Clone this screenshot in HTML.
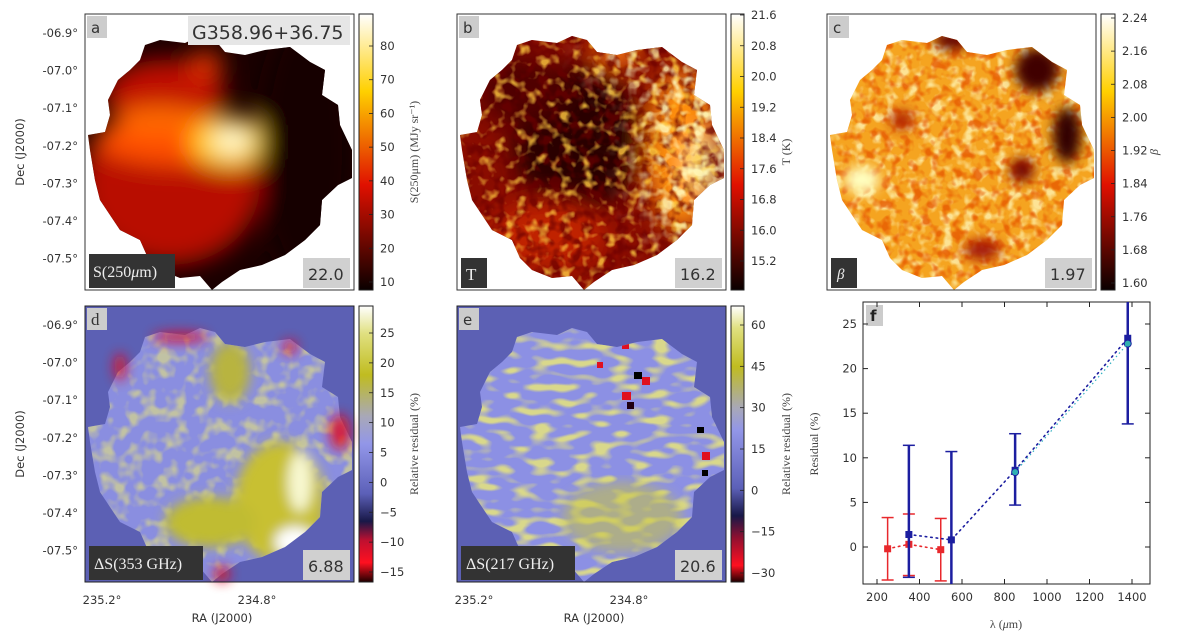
<!DOCTYPE html>
<html><head><meta charset="utf-8"><style>
html,body{margin:0;padding:0;background:#fff;width:1200px;height:636px;overflow:hidden}
svg{display:block}
.tk{font-family:"DejaVu Sans","Liberation Sans",sans-serif;font-size:11.5px;fill:#333}
.ser{font-family:"Liberation Serif","DejaVu Serif",serif;font-size:12px;fill:#444}
</style></head><body>
<svg id="fig" width="1200" height="636" viewBox="0 0 1200 636" xmlns="http://www.w3.org/2000/svg">
<defs>
<clipPath id="blobclip"><path id="blob" d="M145,45 L160,40 L185,43 L200,36 L215,40 L225,52 L245,55 L265,50 L290,47 L310,62 L325,70 L322,95 L338,105 L340,125 L352,150 L352,178 L338,185 L322,200 L320,225 L305,240 L285,255 L262,265 L240,270 L222,282 L212,290 L200,276 L180,278 L160,270 L148,258 L140,240 L120,230 L110,215 L100,200 L95,180 L90,150 L88,135 L105,132 L110,115 L108,100 L118,80 L130,70 L140,60 Z"/></clipPath>
<filter id="blur12"><feGaussianBlur stdDeviation="12"/></filter>
<filter id="blur6"><feGaussianBlur stdDeviation="6"/></filter>
<filter id="blur20" x="-50%" y="-50%" width="200%" height="200%"><feGaussianBlur stdDeviation="20"/></filter>
<mask id="rightMask" maskUnits="userSpaceOnUse" x="85" y="14" width="269" height="276"><rect x="85" y="14" width="269" height="276" fill="#000"/><ellipse cx="320" cy="140" rx="55" ry="120" fill="#fff" filter="url(#blur20)"/><ellipse cx="250" cy="60" rx="30" ry="25" fill="#fff" filter="url(#blur20)"/></mask>
<filter id="mottleDark" x="0" y="0" width="100%" height="100%"><feTurbulence type="fractalNoise" baseFrequency="0.09" numOctaves="2" seed="3"/><feColorMatrix type="matrix" values="0 0 0 0 0.15  0 0 0 0 0  0 0 0 0 0  -4 0 0 0 2.2"/></filter>
<filter id="mottleBright" x="0" y="0" width="100%" height="100%"><feTurbulence type="fractalNoise" baseFrequency="0.09" numOctaves="2" seed="7"/><feColorMatrix type="matrix" values="0 0 0 0 1  0 0 0 0 0.6  0 0 0 0 0.05  4 0 0 0 -2.1"/></filter>
<filter id="mottleYelB" x="0" y="0" width="100%" height="100%"><feTurbulence type="fractalNoise" baseFrequency="0.09" numOctaves="2" seed="13"/><feColorMatrix type="matrix" values="0 0 0 0 1  0 0 0 0 0.95  0 0 0 0 0.5  4 0 0 0 -1.9"/></filter>
<filter id="mottleRed" x="0" y="0" width="100%" height="100%"><feTurbulence type="fractalNoise" baseFrequency="0.1" numOctaves="2" seed="21"/><feColorMatrix type="matrix" values="0 0 0 0 0.8  0 0 0 0 0.1  0 0 0 0 0  -4 0 0 0 2.1"/></filter>
<filter id="mottleYel" x="0" y="0" width="100%" height="100%"><feTurbulence type="fractalNoise" baseFrequency="0.07" numOctaves="2" seed="11"/><feColorMatrix type="matrix" values="0 0 0 0 0.8  0 0 0 0 0.78  0 0 0 0 0.2  3.5 0 0 0 -1.6"/></filter>
<filter id="blockYel" x="0" y="0" width="100%" height="100%"><feTurbulence type="fractalNoise" baseFrequency="0.05 0.12" numOctaves="1" seed="5"/><feColorMatrix type="matrix" values="0 0 0 0 0.8  0 0 0 0 0.78  0 0 0 0 0.2  5 0 0 0 -2.4"/></filter>
<linearGradient id="hot" x1="0" y1="1" x2="0" y2="0"><stop offset="0" stop-color="#0a0000"/><stop offset="0.38" stop-color="#e01000"/><stop offset="0.72" stop-color="#ffd000"/><stop offset="1" stop-color="#ffffff"/></linearGradient>
<linearGradient id="resd" x1="0" y1="1" x2="0" y2="0"><stop offset="0" stop-color="#200000"/><stop offset="0.07" stop-color="#ff1020"/><stop offset="0.15" stop-color="#c01030"/><stop offset="0.22" stop-color="#181848"/><stop offset="0.32" stop-color="#5c60b8"/><stop offset="0.5" stop-color="#9296e8"/><stop offset="0.6" stop-color="#a8a8b8"/><stop offset="0.75" stop-color="#c0bc20"/><stop offset="0.9" stop-color="#e0e080"/><stop offset="1" stop-color="#ffffff"/></linearGradient>
<linearGradient id="rese" x1="0" y1="1" x2="0" y2="0"><stop offset="0" stop-color="#200000"/><stop offset="0.06" stop-color="#ff1020"/><stop offset="0.16" stop-color="#901030"/><stop offset="0.24" stop-color="#181848"/><stop offset="0.34" stop-color="#5c60b8"/><stop offset="0.55" stop-color="#9296e8"/><stop offset="0.63" stop-color="#a8a8b8"/><stop offset="0.78" stop-color="#c0bc20"/><stop offset="0.92" stop-color="#e0e080"/><stop offset="1" stop-color="#ffffff"/></linearGradient>
</defs>

<!-- Panel a -->
<g>
<rect x="85" y="14" width="269" height="276" fill="#fff"/>
<g clip-path="url(#blobclip)">
<rect x="85" y="14" width="269" height="276" fill="#1a0000"/>
<g filter="url(#blur12)">
<ellipse cx="170" cy="185" rx="90" ry="80" fill="#b80800"/>
<ellipse cx="165" cy="95" rx="60" ry="35" fill="#c01000"/>
<ellipse cx="180" cy="140" rx="85" ry="25" fill="#ff5000"/>
<ellipse cx="160" cy="120" rx="45" ry="14" fill="#ff6a00"/>
<ellipse cx="230" cy="142" rx="40" ry="25" fill="#ffd020"/>
<ellipse cx="232" cy="140" rx="18" ry="12" fill="#ffffe0"/>
<ellipse cx="205" cy="65" rx="18" ry="14" fill="#e03000"/>
<ellipse cx="305" cy="150" rx="45" ry="130" fill="#120000"/>
</g>
</g>
<rect x="85" y="14" width="269" height="276" fill="none" stroke="#333" stroke-width="1"/>
</g>
<rect x="87" y="16" width="20" height="22" fill="#ccc"/>
<text x="91" y="33" font-family="DejaVu Sans,sans-serif" font-size="15" fill="#333">a</text>
<rect x="188" y="16" width="162" height="29" fill="#e6e6e6"/>
<text x="192" y="39" font-family="DejaVu Sans,sans-serif" font-size="19" fill="#333">G358.96+36.75</text>
<rect x="89" y="254" width="86" height="34" fill="#333"/>
<text x="93" y="277" font-family="Liberation Serif,serif" font-size="16" fill="#eee">S(250<tspan font-style="italic">μ</tspan>m)</text>
<rect x="303" y="258" width="47" height="30" fill="#d0d0d0"/>
<text x="308" y="280" font-family="DejaVu Sans,sans-serif" font-size="16" fill="#333">22.0</text>

<!-- Panel b -->
<g transform="translate(372,0)">
<rect x="85" y="14" width="269" height="276" fill="#fff"/>
<g clip-path="url(#blobclip)">
<rect x="85" y="14" width="269" height="276" fill="#8a0c00"/>
<g filter="url(#blur12)">
<ellipse cx="205" cy="140" rx="65" ry="75" fill="#2a0000"/>
<ellipse cx="150" cy="90" rx="45" ry="35" fill="#500000"/>
<ellipse cx="310" cy="150" rx="35" ry="80" fill="#ff9010"/>
<ellipse cx="332" cy="165" rx="14" ry="28" fill="#ffffa0"/>
<ellipse cx="245" cy="50" rx="22" ry="16" fill="#ff8010"/>
<ellipse cx="175" cy="235" rx="60" ry="35" fill="#c02000"/>
</g>
<rect x="85" y="14" width="269" height="276" filter="url(#mottleDark)" opacity="0.7"/>
<rect x="85" y="14" width="269" height="276" filter="url(#mottleBright)" opacity="0.8"/>
<rect x="85" y="14" width="269" height="276" filter="url(#mottleYelB)" opacity="0.9" mask="url(#rightMask)"/>
</g>
<rect x="85" y="14" width="269" height="276" fill="none" stroke="#333"/>
<rect x="87" y="16" width="20" height="22" fill="#ccc"/>
<text x="91" y="33" font-family="DejaVu Sans,sans-serif" font-size="15" fill="#333">b</text>
<rect x="89" y="258" width="26" height="30" fill="#333"/>
<text x="94" y="280" font-family="Liberation Serif,serif" font-size="17" fill="#eee">T</text>
<rect x="303" y="258" width="47" height="30" fill="#d0d0d0"/>
<text x="308" y="280" font-family="DejaVu Sans,sans-serif" font-size="16" fill="#333">16.2</text>
</g>

<!-- Panel c -->
<g transform="translate(742,0)">
<rect x="85" y="14" width="269" height="276" fill="#fff"/>
<g clip-path="url(#blobclip)">
<rect x="85" y="14" width="269" height="276" fill="#f5a420"/>
<rect x="85" y="14" width="269" height="276" filter="url(#mottleYelB)" opacity="0.75"/>
<rect x="85" y="14" width="269" height="276" filter="url(#mottleRed)" opacity="0.8"/>
<g filter="url(#blur6)">
<ellipse cx="295" cy="70" rx="22" ry="22" fill="#400000"/>
<ellipse cx="325" cy="135" rx="14" ry="28" fill="#300000"/>
<ellipse cx="280" cy="170" rx="12" ry="12" fill="#700000"/>
<ellipse cx="210" cy="40" rx="18" ry="10" fill="#600000"/>
<ellipse cx="160" cy="120" rx="12" ry="10" fill="#b02000"/>
<ellipse cx="240" cy="250" rx="18" ry="10" fill="#a01000"/>
<ellipse cx="120" cy="180" rx="18" ry="14" fill="#ffffc0"/>
</g>
</g>
<rect x="85" y="14" width="269" height="276" fill="none" stroke="#333"/>
<rect x="87" y="16" width="20" height="22" fill="#ccc"/>
<text x="91" y="33" font-family="DejaVu Sans,sans-serif" font-size="15" fill="#333">c</text>
<rect x="89" y="258" width="26" height="30" fill="#333"/>
<text x="95" y="279" font-family="Liberation Serif,serif" font-style="italic" font-size="15" fill="#eee">β</text>
<rect x="303" y="258" width="47" height="30" fill="#d0d0d0"/>
<text x="308" y="280" font-family="DejaVu Sans,sans-serif" font-size="16" fill="#333">1.97</text>
</g>

<!-- Panel d -->
<g transform="translate(0,292)">
<rect x="85" y="14" width="269" height="276" fill="#5c60b4"/>
<g clip-path="url(#blobclip)">
<rect x="85" y="14" width="269" height="276" fill="#8a8ee0"/>
<rect x="85" y="14" width="269" height="276" filter="url(#mottleYel)" opacity="0.6"/>
<g filter="url(#blur6)">
<ellipse cx="280" cy="210" rx="45" ry="60" fill="#c8c030"/>
<ellipse cx="210" cy="230" rx="45" ry="25" fill="#c0bc30"/>
<ellipse cx="300" cy="190" rx="12" ry="30" fill="#f8f8d0"/>
<ellipse cx="295" cy="250" rx="20" ry="15" fill="#ffffff"/>
<ellipse cx="230" cy="80" rx="20" ry="30" fill="#b8b440"/>
</g>
</g>
<g filter="url(#blur6)" opacity="0.9">
<ellipse cx="180" cy="45" rx="28" ry="5" fill="#e01020"/>
<ellipse cx="120" cy="75" rx="6" ry="14" fill="#e01020"/>
<ellipse cx="340" cy="140" rx="10" ry="18" fill="#e01020"/>
<ellipse cx="290" cy="55" rx="7" ry="7" fill="#e01020"/>
<ellipse cx="222" cy="282" rx="8" ry="8" fill="#e01020"/>
</g>
<rect x="85" y="14" width="269" height="276" fill="none" stroke="#222"/>
<rect x="87" y="16" width="20" height="22" fill="#ccc"/>
<text x="91" y="33" font-family="Liberation Serif,serif" font-size="17" fill="#333">d</text>
<rect x="89" y="254" width="114" height="34" fill="#333"/>
<text x="94" y="277" font-family="Liberation Serif,serif" font-size="16" fill="#eee">ΔS(353 GHz)</text>
<rect x="303" y="258" width="47" height="30" fill="#d0d0d0"/>
<text x="308" y="280" font-family="DejaVu Sans,sans-serif" font-size="16" fill="#333">6.88</text>
</g>

<!-- Panel e -->
<g transform="translate(372,292)">
<rect x="85" y="14" width="269" height="276" fill="#5c60b4"/>
<g clip-path="url(#blobclip)">
<rect x="85" y="14" width="269" height="276" fill="#8c90e4"/>
<rect x="85" y="14" width="269" height="276" filter="url(#blockYel)" opacity="0.85"/>
<g filter="url(#blur6)">
<ellipse cx="250" cy="225" rx="60" ry="35" fill="#c8c440" opacity="0.55"/>
</g>
<rect x="240" y="45" width="8" height="8" fill="#000"/><rect x="250" y="50" width="7" height="7" fill="#e01020"/>
<rect x="262" y="80" width="8" height="7" fill="#000"/><rect x="270" y="85" width="8" height="8" fill="#e01020"/>
<rect x="250" y="100" width="9" height="8" fill="#e01020"/><rect x="255" y="110" width="7" height="7" fill="#200010"/>
<rect x="325" y="135" width="7" height="6" fill="#000"/><rect x="330" y="160" width="8" height="8" fill="#e01020"/>
<rect x="225" y="70" width="6" height="6" fill="#e01020"/><rect x="330" y="178" width="6" height="6" fill="#000"/>
</g>
<rect x="85" y="14" width="269" height="276" fill="none" stroke="#222"/>
<rect x="87" y="16" width="20" height="22" fill="#ccc"/>
<text x="91" y="33" font-family="DejaVu Sans,sans-serif" font-size="15" fill="#333">e</text>
<rect x="89" y="254" width="114" height="34" fill="#333"/>
<text x="94" y="277" font-family="Liberation Serif,serif" font-size="16" fill="#eee">ΔS(217 GHz)</text>
<rect x="303" y="258" width="47" height="30" fill="#d0d0d0"/>
<text x="308" y="280" font-family="DejaVu Sans,sans-serif" font-size="16" fill="#333">20.6</text>
</g>

<!-- Colorbars -->
<rect x="359" y="14" width="14" height="276" fill="url(#hot)" stroke="#222"/>
<rect x="731" y="14" width="13" height="276" fill="url(#hot)" stroke="#222"/>
<rect x="1101" y="14" width="14" height="276" fill="url(#hot)" stroke="#222"/>
<rect x="359" y="306" width="14" height="276" fill="url(#resd)" stroke="#222"/>
<rect x="731" y="306" width="13" height="276" fill="url(#rese)" stroke="#222"/>
<g id="cbticks"></g>

<!-- axis titles -->
<text class="tk" transform="translate(24,152) rotate(-90)" text-anchor="middle">Dec (J2000)</text>
<text class="tk" transform="translate(24,444) rotate(-90)" text-anchor="middle">Dec (J2000)</text>
<text class="tk" x="222" y="622" text-anchor="middle">RA (J2000)</text>
<text class="tk" x="594" y="622" text-anchor="middle">RA (J2000)</text>
<text class="tk" x="102" y="604" text-anchor="middle">235.2°</text>
<text class="tk" x="257" y="604" text-anchor="middle">234.8°</text>
<text class="tk" x="474" y="604" text-anchor="middle">235.2°</text>
<text class="tk" x="629" y="604" text-anchor="middle">234.8°</text>
<text class="ser" transform="translate(418,152) rotate(-90)" text-anchor="middle">S(250μm) (MJy sr⁻¹)</text>
<text class="ser" transform="translate(790,152) rotate(-90)" text-anchor="middle">T (K)</text>
<text class="ser" transform="translate(1158,152) rotate(-90)" text-anchor="middle" font-style="italic">β</text>
<text class="ser" transform="translate(418,444) rotate(-90)" text-anchor="middle">Relative residual (%)</text>
<text class="ser" transform="translate(790,444) rotate(-90)" text-anchor="middle">Relative residual (%)</text>
<text class="ser" transform="translate(818,444) rotate(-90)" text-anchor="middle">Residual (%)</text>
<text class="ser" x="1006" y="628" text-anchor="middle" font-size="13">λ (<tspan font-style="italic">μ</tspan>m)</text>
<g id="decticks"></g>

<!-- Panel f -->
<g id="pf">
<rect x="863" y="302" width="287" height="282" fill="#fff" stroke="#222"/>
<rect x="866" y="305" width="17" height="21" fill="#ccc"/>
<text x="870" y="321" font-family="DejaVu Sans,sans-serif" font-size="15" fill="#222" font-weight="bold">f</text>
</g>
</svg>
<script>
const NS='http://www.w3.org/2000/svg';
const fig=document.getElementById('fig');
function mk(tag,attrs,parent,txt){const e=document.createElementNS(NS,tag);for(const k in attrs)e.setAttribute(k,attrs[k]);if(txt!==undefined)e.textContent=txt;(parent||fig).appendChild(e);return e;}

// Dec tick labels
const decLabels=['-06.9°','-07.0°','-07.1°','-07.2°','-07.3°','-07.4°','-07.5°'];
const decG=document.getElementById('decticks');
decLabels.forEach((l,i)=>{
  [0,292].forEach(dy=>{
    const t=mk('text',{x:78,y:37+i*37.6+dy,'text-anchor':'end',class:'tk'},decG,l);
    
    
  });
});

// Colorbar ticks
const cbA=[10,20,30,40,50,60,70,80];
const cbB=['15.2','16.0','16.8','17.6','18.4','19.2','20.0','20.8','21.6'];
const cbC=['1.60','1.68','1.76','1.84','1.92','2.00','2.08','2.16','2.24'];
const cbD=[-15,-10,-5,0,5,10,15,20,25];
const cbE=[-30,-15,0,15,30,45,60];
const cg=document.getElementById('cbticks');
function cbar(labels,x0,yA,yB,vA,vB){
  labels.forEach(l=>{
    const v=parseFloat(String(l));
    const y=yA+(v-vA)*(yB-yA)/(vB-vA);
    mk('line',{x1:x0,x2:x0+4,y1:y,y2:y,stroke:'#222','stroke-width':0.8},cg);
    const t=mk('text',{x:x0+11,y:y+4,class:'tk'},cg,String(l).replace('-','−'));
    
    
  });
}
cbar(cbA,369,282,46,10,80);
cbar(cbB,740,261,15,15.2,21.6);
cbar(cbC,1111,283,18,1.60,2.24);
cbar(cbD,369,572,333,-15,25);
cbar(cbE,740,573,325,-30,60);

// Panel f data
const redX=[250,350,500];
const redY=[-0.2,0.3,-0.3];
const redLo=[-3.7,-3.2,-3.8];
const redHi=[3.3,3.7,3.2];
const blueX=[350,550,850,1380];
const blueY=[1.4,0.8,8.6,23.4];
const blueLo=[-3.4,-5,4.7,13.8];
const blueHi=[11.4,10.7,12.7,30];
const cyanX=[850,1380];
const cyanY=[8.4,22.8];
const xTicks=[200,400,600,800,1000,1200,1400];
const yTicks=[0,5,10,15,20,25];

const L=863,R=1150,T=302,B=584;
const sx=v=>877+(v-200)*0.2125;
const sy=v=>547-v*8.92;
const pf=document.getElementById('pf');
const cp=mk('clipPath',{id:'fclip'},pf);
mk('rect',{x:L,y:T,width:R-L,height:B-T},cp);
const g=mk('g',{'clip-path':'url(#fclip)'},pf);

xTicks.forEach(v=>{
  const x=sx(v);
  mk('line',{x1:x,x2:x,y1:B,y2:B-5,stroke:'#222'},pf);
  mk('line',{x1:x,x2:x,y1:T,y2:T+5,stroke:'#222'},pf);
  const t=mk('text',{x:x,y:B+17,'text-anchor':'middle',class:'tk'},pf,String(v));
  
  
});
yTicks.forEach(v=>{
  const y=sy(v);
  mk('line',{x1:L,x2:L+5,y1:y,y2:y,stroke:'#222'},pf);
  mk('line',{x1:R,x2:R-5,y1:y,y2:y,stroke:'#222'},pf);
  const t=mk('text',{x:L-6,y:y+4,'text-anchor':'end',class:'tk'},pf,String(v));
  
  
});

function series(xs,ys,lo,hi,col,name,w){
  const pts=xs.map((x,i)=>sx(x)+','+sy(ys[i])).join(' ');
  const pl=mk('polyline',{points:pts,fill:'none',stroke:col,'stroke-width':1.6,'stroke-dasharray':'1.5,4','stroke-linecap':'round'},g);
  
  
  xs.forEach((x,i)=>{
    const px=sx(x);
    if(lo){
      const eb=mk('line',{x1:px,x2:px,y1:sy(lo[i]),y2:sy(hi[i]),stroke:col,'stroke-width':w},g);
      
      
      mk('line',{x1:px-6,x2:px+6,y1:sy(lo[i]),y2:sy(lo[i]),stroke:col,'stroke-width':1.5},g);
      mk('line',{x1:px-6,x2:px+6,y1:sy(hi[i]),y2:sy(hi[i]),stroke:col,'stroke-width':1.5},g);
    }
    const m=mk('rect',{x:px-3.5,y:sy(ys[i])-3.5,width:7,height:7,fill:col},g);
    
    
  });
}
series(redX,redY,redLo,redHi,'#e8282c','red-series',1.5);
series(blueX,blueY,blueLo,blueHi,'#1c1ea0','blue-series',2.5);
cyanX.forEach((x,i)=>{
  const c=mk('circle',{cx:sx(x),cy:sy(cyanY[i]),r:3.5,fill:'#30b0b0',stroke:'#1c1ea0','stroke-width':1},g);
  
  
});
mk('polyline',{points:cyanX.map((x,i)=>sx(x)+','+sy(cyanY[i])).join(' '),fill:'none',stroke:'#30b0c0','stroke-width':1.2,'stroke-dasharray':'1.5,3'},g);
</script>
</body></html>
